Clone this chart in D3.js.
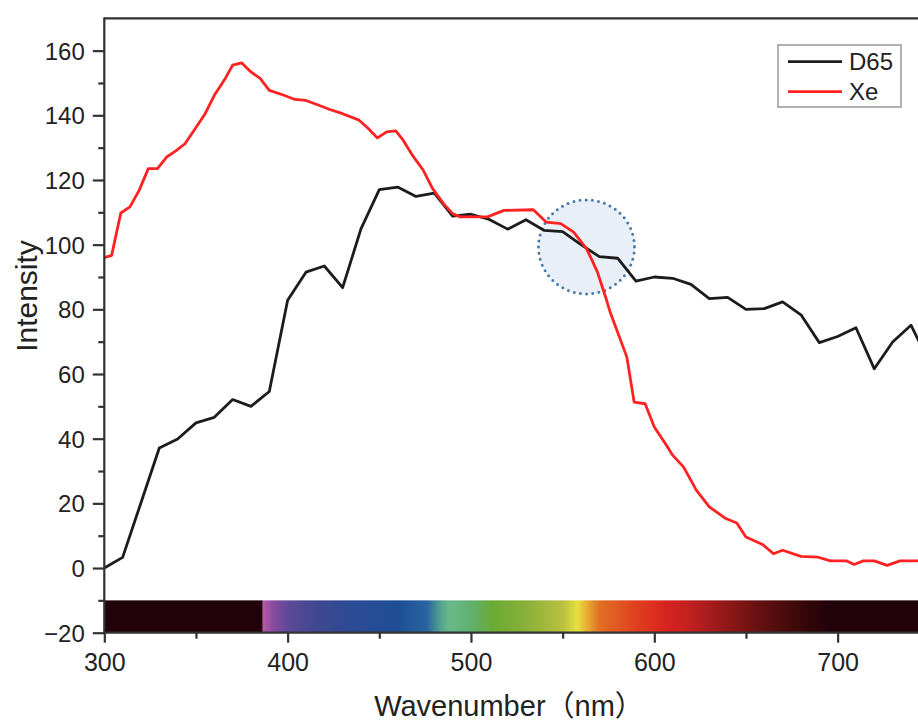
<!DOCTYPE html>
<html>
<head>
<meta charset="utf-8">
<script src="https://cdn.jsdelivr.net/npm/d3@7"></script>
<style>
  html, body { margin: 0; padding: 0; background: #fff; }
  svg { display: block; }
  text { font-family: "Liberation Sans", Arial, "Noto Sans CJK SC", sans-serif; fill: #222; }
</style>
</head>
<body>
<svg id="chart" width="918" height="724"></svg>
<script>
// ---- Data ----
const d65Wavelength = [300,310,320,330,340,350,360,370,380,390,400,410,420,430,440,450,460,470,480,490,500,510,520,530,540,550,560,570,580,590,600,610,620,630,640,650,660,670,680,690,700,710,720,730,740,750];
const d65Intensity = [0.0,3.3,20.2,37.1,39.9,44.9,46.6,52.1,50.0,54.6,82.8,91.5,93.4,86.7,104.9,117.0,117.8,114.9,115.9,108.8,109.4,107.8,104.8,107.7,104.4,104.0,100.0,96.3,95.8,88.7,90.0,89.6,87.7,83.3,83.7,80.0,80.2,82.3,78.3,69.7,71.6,74.3,61.6,69.9,75.1,63.6];

const xeWavelength = [300,304,309,314,319,324,329,334,339,344,349,355,360,366,370,375,380,385,390,398,404,410,417,423,430,439,444,449,454,459,463,468,474,479,485,490,494,509,518,534,541,549,556,563,566,569,574,576,585,589,595,600,606,610,616,623,630,639,645,650,659,665,670,680,689,696,705,709,714,720,727,734,743,750];
const xeIntensity = [96.0,96.7,109.8,111.7,116.8,123.5,123.5,127.1,129.0,131.2,135.4,140.5,146.2,151.4,155.5,156.2,153.4,151.4,147.7,146.2,144.9,144.6,143.1,141.8,140.5,138.5,135.9,133.0,134.9,135.2,132.3,127.7,123.0,117.4,112.7,109.6,108.6,108.6,110.6,110.8,107.0,106.5,103.9,98.8,95.2,91.5,82.8,79.0,65.3,51.3,50.8,43.6,38.5,34.9,31.2,24.0,18.9,15.3,13.9,9.6,7.3,4.4,5.5,3.6,3.4,2.2,2.2,1.1,2.2,2.2,0.8,2.2,2.2,2.2];

const seriesNames = ["D65", "Xe"];
const seriesColors = ["#1c1c1c", "#ff2222"];

const xMajorTicks = [300,400,500,600,700];
const xMinorTicks = [350,450,550,650,750];
const yMajorTicks = [-20,0,20,40,60,80,100,120,140,160];
const yMinorTicks = [-10,10,30,50,70,90,110,130,150];

const xLabel = "Wavenumber（nm）";
const yLabel = "Intensity";

// highlight circle (data coords)
const highlightCenter = [563, 99.3];

// spectrum colour bar stops (wavelength, colour)
const spectrumWl = [300,386,386.5,392,400,415,435,460,476,483,488,500,512,530,550,558,563,570,590,606,620,640,660,680,695,750];
const spectrumColor = ["#22020a","#22020a","#b85aa8","#8a4aa0","#5e4a98","#404890","#2c4a94","#1e4e96","#2a64a0","#50a090","#6ab88a","#60b070","#6aaa34","#88b038","#b8c040","#e6e040","#e8b034","#e07024","#e04020","#d82420","#c02020","#901818","#601010","#380808","#22020a","#22020a"];

// ---- Layout ----
const svg = d3.select("#chart");
const mLeft = 104.3, mRight = 929.3, mTop = 18.3, mBottom = 632.7;

const x = d3.scaleLinear().domain([300, 750]).range([mLeft, mRight]);
const y = d3.scaleLinear().domain([-20, 170]).range([mBottom, mTop]);

// spectrum gradient
const defs = svg.append("defs");
const grad = defs.append("linearGradient")
  .attr("id", "spec").attr("gradientUnits", "userSpaceOnUse")
  .attr("x1", x(300)).attr("x2", x(750)).attr("y1", 0).attr("y2", 0);
spectrumWl.forEach((w, i) => {
  grad.append("stop").attr("offset", (w - 300) / 450).attr("stop-color", spectrumColor[i]);
});
svg.append("rect")
  .attr("x", x(300)).attr("y", y(-10))
  .attr("width", x(750) - x(300)).attr("height", y(-20) - y(-10))
  .attr("fill", "url(#spec)");

// highlight circle
svg.append("ellipse")
  .attr("cx", x(highlightCenter[0])).attr("cy", y(highlightCenter[1]))
  .attr("rx", 48).attr("ry", 47)
  .attr("fill", "#dfe8f4").attr("fill-opacity", 0.7)
  .attr("stroke", "#4a7aaa").attr("stroke-width", 3)
  .attr("stroke-dasharray", "0 6.2").attr("stroke-linecap", "round");

// lines
const line = d3.line().x(d => x(d[0])).y(d => y(d[1]));
const d65 = d65Wavelength.map((w, i) => [w, d65Intensity[i]]);
const xe = xeWavelength.map((w, i) => [w, xeIntensity[i]]);
svg.append("path").datum(d65).attr("d", line)
  .attr("fill", "none").attr("stroke", seriesColors[0]).attr("stroke-width", 2.8)
  .attr("stroke-linejoin", "round");
svg.append("path").datum(xe).attr("d", line)
  .attr("fill", "none").attr("stroke", seriesColors[1]).attr("stroke-width", 2.8)
  .attr("stroke-linejoin", "round");

// axes
const axisColor = "#333";
svg.append("line").attr("x1", mLeft).attr("x2", mRight).attr("y1", mTop).attr("y2", mTop)
  .attr("stroke", axisColor).attr("stroke-width", 2.2);

const yAxis = svg.append("g").attr("transform", `translate(${mLeft},0)`)
  .call(d3.axisLeft(y).tickValues(yMajorTicks).tickSize(11.5).tickPadding(8));
const yMinor = svg.append("g").attr("transform", `translate(${mLeft},0)`)
  .call(d3.axisLeft(y).tickValues(yMinorTicks).tickSize(6).tickFormat(""));
const xAxis = svg.append("g").attr("transform", `translate(0,${mBottom})`)
  .call(d3.axisBottom(x).tickValues(xMajorTicks).tickSize(10).tickPadding(11));
const xMinor = svg.append("g").attr("transform", `translate(0,${mBottom})`)
  .call(d3.axisBottom(x).tickValues(xMinorTicks).tickSize(6).tickFormat(""));

[yAxis, yMinor, xAxis, xMinor].forEach(g => {
  g.select(".domain").remove();
  g.selectAll(".tick line").attr("stroke", axisColor).attr("stroke-width", 2.2);
  g.selectAll(".tick text").attr("fill", "#222")
    .style("font-family", '"Liberation Sans", Arial, sans-serif');
});
yAxis.selectAll(".tick text").style("font-size", "24px").attr("dy", "0.36em");
xAxis.selectAll(".tick text").style("font-size", "25px");

svg.append("line").attr("x1", mLeft).attr("x2", mLeft).attr("y1", mTop - 1).attr("y2", mBottom + 1)
  .attr("stroke", axisColor).attr("stroke-width", 2.2);
svg.append("line").attr("x1", mLeft - 1).attr("x2", mRight).attr("y1", mBottom).attr("y2", mBottom)
  .attr("stroke", axisColor).attr("stroke-width", 2.2);

// axis titles
svg.append("text")
  .attr("transform", `translate(37,296) rotate(-90)`)
  .attr("text-anchor", "middle")
  .style("font-size", "30px")
  .text(yLabel);
svg.append("text")
  .attr("x", 509).attr("y", 716)
  .attr("text-anchor", "middle")
  .style("font-size", "29px")
  .text(xLabel);

// legend
const lg = svg.append("g");
lg.append("rect").attr("x", 778).attr("y", 45).attr("width", 123).attr("height", 62)
  .attr("fill", "#fff").attr("stroke", "#999").attr("stroke-width", 1.5);
const legendY = [61.7, 91.7];
seriesNames.forEach((name, i) => {
  lg.append("line").attr("x1", 788).attr("x2", 842).attr("y1", legendY[i]).attr("y2", legendY[i])
    .attr("stroke", seriesColors[i]).attr("stroke-width", 2.8);
  lg.append("text").attr("x", 849).attr("y", legendY[i] + 8.5)
    .style("font-size", "24px").text(name);
});
</script>
</body>
</html>
